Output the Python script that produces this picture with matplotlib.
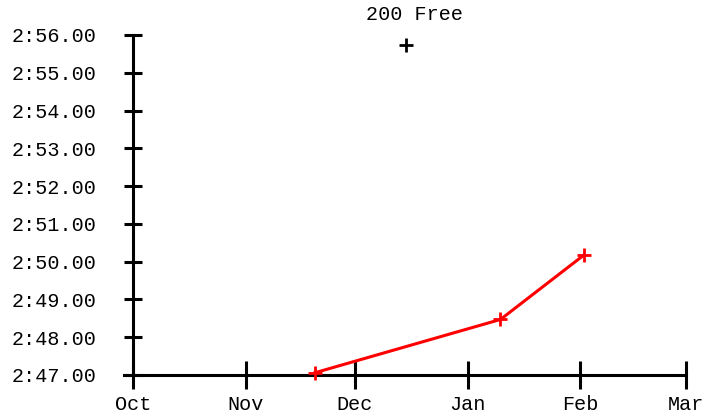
import matplotlib
matplotlib.use("Agg")
import matplotlib.pyplot as plt
import matplotlib.dates as mdates
from matplotlib.ticker import FuncFormatter, MultipleLocator
import datetime as dt

title = "200 Free"
red_dates = [dt.date(2023, 11, 20), dt.date(2024, 1, 10), dt.date(2024, 2, 2)]
red_times = [167.06, 168.47, 170.18]
black_dates = [dt.date(2023, 12, 15)]
black_times = [175.73]
x_start = dt.date(2023, 10, 1)
x_end = dt.date(2024, 3, 1)
y_min, y_max = 167.0, 176.0

plt.rcParams['font.family'] = ['Liberation Mono', 'DejaVu Sans']

fig = plt.figure(figsize=(7.06, 4.16), dpi=100)
ax = fig.add_axes([133/706, (416-375)/416, (686-133)/706, (375-35)/416])

ax.plot(red_dates, red_times, color='red', lw=2.2, marker='+', ms=9.5, mew=2, clip_on=False, zorder=3)
ax.plot(black_dates, black_times, color='black', ls='none', marker='+', ms=9.5, mew=2, clip_on=False, zorder=3)

ax.set_xlim(x_start, x_end)
ax.set_ylim(y_min, y_max)

ax.xaxis.set_major_locator(mdates.MonthLocator())
ax.xaxis.set_major_formatter(mdates.DateFormatter('%b'))
ax.yaxis.set_major_locator(MultipleLocator(1))
ax.yaxis.set_major_formatter(FuncFormatter(lambda v, p: f"{int(v)//60}:{v - 60*(int(v)//60):05.2f}"))

for s in ['top', 'right']:
    ax.spines[s].set_visible(False)
ax.spines['left'].set_linewidth(2.2)
ax.spines['bottom'].set_linewidth(2.2)
ax.spines['bottom'].set_bounds(mdates.date2num(x_start) - 2.5, mdates.date2num(x_end))

ax.tick_params(axis='both', direction='inout', width=2.2, labelsize=14.5, colors='black')
ax.tick_params(axis='y', length=13.5, pad=19.75)
ax.tick_params(axis='x', length=19.5, pad=4.75)

fig.text(414/706, 1 - 15/416, title, ha='center', va='center', fontsize=14.5)

fig.savefig('out.png', dpi=100)
